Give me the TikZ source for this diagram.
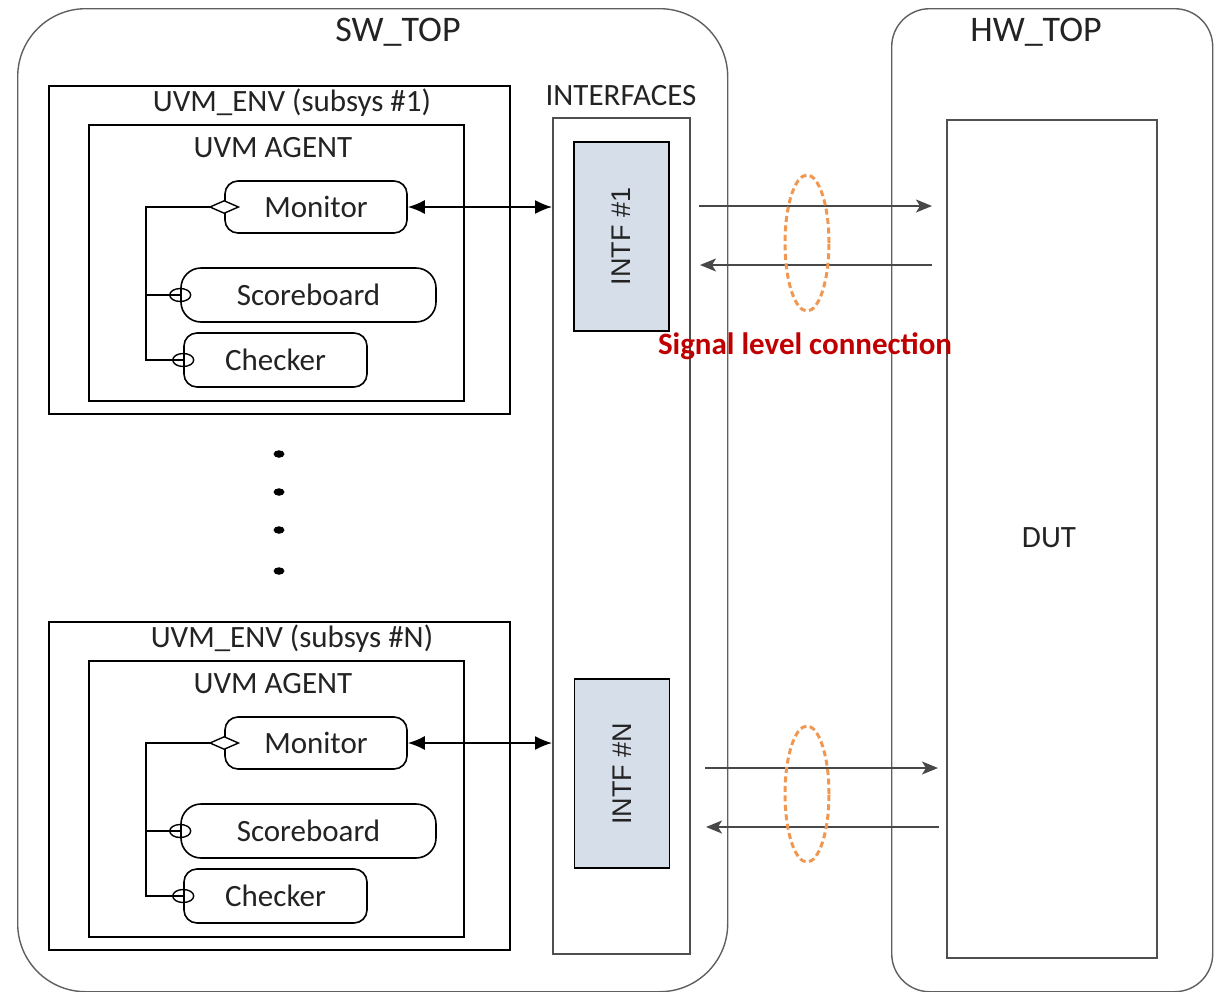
\documentclass[tikz,border=0pt]{standalone}
\usepackage{fontspec}
\setmainfont{Carlito}
\newfontfamily\arialfont{Liberation Sans}
\usetikzlibrary{arrows.meta,shapes.geometric}

\definecolor{framegray}{RGB}{95,95,95}
\definecolor{boxgray}{RGB}{80,80,80}
\definecolor{inkgray}{RGB}{35,35,35}
\definecolor{intfblue}{RGB}{214,222,234}
\definecolor{ringorange}{RGB}{240,152,82}
\definecolor{sigred}{RGB}{192,0,0}
\definecolor{wiregray}{RGB}{72,72,72}

\begin{document}
\begin{tikzpicture}[x=1pt,y=-1pt,
  txt/.style={font=\fontsize{31}{36}\selectfont, text=inkgray, inner sep=0pt},
  titletxt/.style={font=\fontsize{36}{42}\selectfont, text=inkgray, inner sep=0pt},
  container/.style={draw=framegray, line width=1.4pt, anchor=north west, inner sep=0pt},
  envbox/.style={draw=black, line width=1.7pt, anchor=north west, inner sep=0pt},
  hwbox/.style={draw=boxgray, line width=1.7pt, anchor=north west, inner sep=0pt},
  intfbox/.style={draw=black, line width=1.6pt, fill=intfblue, inner sep=0pt,
    minimum width=95pt, minimum height=189pt,
    font=\arialfont\fontsize{27}{32}\selectfont, text=inkgray},
  compbox/.style={draw=black, line width=1.6pt, inner sep=0pt, txt},
  aggr/.style={diamond, draw=black, line width=1.4pt, fill=white, inner sep=0pt,
    minimum width=29pt, minimum height=13pt},
  usemark/.style={ellipse, draw=black, line width=1.4pt, inner sep=0pt,
    minimum width=21pt, minimum height=13pt},
  wire/.style={draw=black, line width=1.6pt},
  tlmlink/.style={draw=black, line width=1.7pt,
    {Latex[length=17pt,width=14pt]}-{Latex[length=17pt,width=14pt]}},
  siglink/.style={draw=wiregray, line width=1.7pt,
    -{Stealth[length=16pt,width=13pt,inset=4pt]}},
  sigring/.style={ellipse, draw=ringorange, line width=3pt,
    dash pattern=on 6pt off 3.5pt, inner sep=0pt,
    minimum width=44pt, minimum height=136pt},
  ellipsis/.style={ellipse, fill=black, inner sep=0pt,
    minimum width=11pt, minimum height=7.5pt}
]
\useasboundingbox (0,0) rectangle (1221,991);

% software and hardware top levels
\node[container, rounded corners=68pt, minimum width=710pt, minimum height=983pt] (sw) at (17,8) {};
\node[titletxt] (swlbl) at (398,32) {SW\_TOP};
\node[container, rounded corners=38pt, minimum width=321pt, minimum height=983pt] (hw) at (891,8) {};
\node[titletxt] (hwlbl) at (1036,32) {HW\_TOP};

% interface bundle
\node[hwbox, minimum width=137pt, minimum height=836pt] (ifaces) at (552,117) {};
\node[txt] (ifaceslbl) at (621,96) {INTERFACES};
\node[intfbox] (intf1) at (621.5,236.5) {\rotatebox{90}{INTF \#1}};
\node[intfbox] (intfN) at (622,773.5) {\rotatebox{90}{INTF \#N}};

% design under test
\node[hwbox, minimum width=210pt, minimum height=838pt, txt] (dut) at (946,119) {};
\node[txt] (dutlbl) at (1049,538) {DUT};

% one UVM environment per subsystem
\foreach \k/\dy/\tag in {1/0/1, N/536/N}{
  \begin{scope}[yshift=-\dy pt]
    \node[envbox, minimum width=461pt, minimum height=328pt] (env\k) at (48,85) {};
    \node[txt] (envlbl\k) at (292,103) {UVM\_ENV (subsys \#\tag)};
    \node[envbox, minimum width=375pt, minimum height=276pt] (agent\k) at (88,124) {};
    \node[txt] (agentlbl\k) at (273,148) {UVM AGENT};
    \node[compbox, rounded corners=13pt, minimum width=182pt, minimum height=52pt] (mon\k) at (316,207) {Monitor};
    \node[compbox, rounded corners=20pt, minimum width=255pt, minimum height=54pt] (sb\k) at (308.5,295) {Scoreboard};
    \node[compbox, rounded corners=13pt, minimum width=183pt, minimum height=54pt] (chk\k) at (275.5,360) {Checker};
    \coordinate (bus\k) at (146,207);
    \node[usemark] (sbmark\k) at (sb\k.west) {};
    \node[usemark] (chkmark\k) at (chk\k.west) {};
    \draw[wire] (mon\k.west) -- (bus\k) |- (chk\k.west);
    \draw[wire] (bus\k |- sb\k.west) -- (sb\k.west);
    \node[aggr] (monmark\k) at (mon\k.west) {};
    \draw[tlmlink] (mon\k.east) -- (mon\k.east -| ifaces.west);
  \end{scope}
}

% more subsystems in between
\foreach \i/\yy in {1/454, 2/492, 3/530, 4/571}
  \node[ellipsis] (dot\i) at (279,\yy) {};

% signal level wiring between interfaces and DUT
\coordinate (o1) at (699,206);  \coordinate (i1) at (932,206);
\coordinate (o2) at (932,265);  \coordinate (i2) at (700,265);
\coordinate (o3) at (705,768);  \coordinate (i3) at (938,768);
\coordinate (o4) at (939,827);  \coordinate (i4) at (706,827);
\draw[siglink] (o1) -- (i1);
\draw[siglink] (o2) -- (i2);
\draw[siglink] (o3) -- (i3);
\draw[siglink] (o4) -- (i4);
\node[sigring] (ring1) at (807,243) {};
\node[sigring] (ringN) at (807,794) {};
\node[font=\bfseries\fontsize{31}{36}\selectfont, text=sigred, inner sep=0pt] (siglbl) at (805,346) {Signal level connection};
\end{tikzpicture}
\end{document}
